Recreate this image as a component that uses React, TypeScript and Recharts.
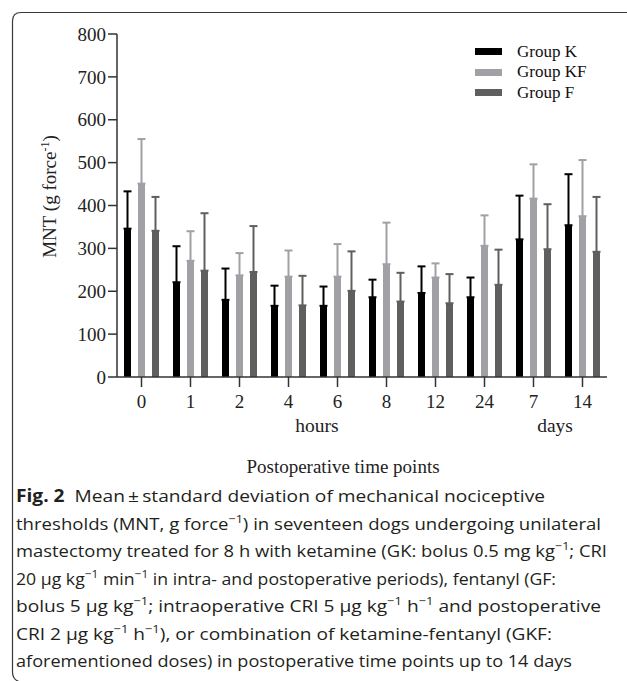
import React from 'react';
import { BarChart, Bar, XAxis, YAxis, ErrorBar, Legend } from 'recharts';

// ---- data ----
const categories = ['0', '1', '2', '4', '6', '8', '12', '24', '7', '14'];
const kMean = [346, 221, 180, 166, 166, 186, 196, 186, 321, 354];
const kSd = [87, 84, 73, 47, 45, 41, 62, 46, 102, 119];
const kfMean = [451, 271, 237, 234, 234, 263, 232, 306, 416, 375];
const kfSd = [104, 69, 52, 61, 76, 97, 33, 71, 80, 131];
const fMean = [341, 248, 245, 167, 201, 176, 172, 215, 298, 292];
const fSd = [79, 134, 107, 69, 92, 67, 68, 82, 105, 128];
const yTicks = [0, 100, 200, 300, 400, 500, 600, 700, 800];
const seriesNames = ['Group K', 'Group KF', 'Group F'];

const data = categories.map((c, i) => ({
  cat: c,
  k: kMean[i],
  kErr: [0, kSd[i]],
  kf: kfMean[i],
  kfErr: [0, kfSd[i]],
  f: fMean[i],
  fErr: [0, fSd[i]],
}));

const COLORS = ['#000000', '#a1a1a5', '#5f5f5f'];
const SERIF = '"Liberation Serif", "Times New Roman", serif';
const SANS = '"Open Sans", "Noto Sans", sans-serif';

type Seg = { t: string; b?: boolean; s?: boolean };
const CAPTION: Seg[][] = [
  [{ t: 'Fig. 2', b: true }, { t: '  Mean\u2009±\u2009standard deviation of mechanical nociceptive' }],
  [{ t: 'thresholds (MNT, g force' }, { t: '−1', s: true }, { t: ') in seventeen dogs undergoing unilateral' }],
  [{ t: 'mastectomy treated for 8 h with ketamine (GK: bolus 0.5 mg kg' }, { t: '−1', s: true }, { t: '; CRI' }],
  [{ t: '20 μg kg' }, { t: '−1', s: true }, { t: ' min' }, { t: '−1', s: true }, { t: ' in intra- and postoperative periods), fentanyl (GF:' }],
  [{ t: 'bolus 5 μg kg' }, { t: '−1', s: true }, { t: '; intraoperative CRI 5 μg kg' }, { t: '−1', s: true }, { t: ' h' }, { t: '−1', s: true }, { t: ' and postoperative' }],
  [{ t: 'CRI 2 μg kg' }, { t: '−1', s: true }, { t: ' h' }, { t: '−1', s: true }, { t: '), or combination of ketamine-fentanyl (GKF:' }],
  [{ t: 'aforementioned doses) in postoperative time points up to 14 days' }],
];
const CAPTION_WIDTHS = [529, 585, 591, 540, 585, 536, 556];

function renderCaptionLine(segs: Seg[]) {
  const out: React.ReactNode[] = [];
  let raised = false;
  segs.forEach((sg, i) => {
    if (sg.s) {
      out.push(
        <tspan key={i} dy={-7} fontSize={11.5}>
          {sg.t}
        </tspan>
      );
      raised = true;
    } else {
      out.push(
        <tspan key={i} dy={raised ? 7 : 0} fontSize={17} fontWeight={sg.b ? 700 : 400}>
          {sg.t}
        </tspan>
      );
      raised = false;
    }
  });
  return out;
}

const LegendContent = () => (
  <div style={{ fontFamily: SERIF, fontSize: 17, color: '#111' }}>
    {seriesNames.map((n, i) => (
      <div key={n} style={{ display: 'flex', alignItems: 'center', height: 20.5 }}>
        <div style={{ width: 27, height: 7, background: COLORS[i], marginRight: 15 }} />
        <span style={{ lineHeight: '20px', whiteSpace: 'nowrap' }}>{n}</span>
      </div>
    ))}
  </div>
);

export default function App() {
  const axisColor = '#333';
  return (
    <div style={{ position: 'absolute', left: 0, top: 0, width: 627, height: 681, background: '#fff' }}>
      <BarChart
        width={627}
        height={681}
        data={data}
        margin={{ top: 34, right: 20, bottom: 0, left: 0 }}
        barSize={7}
        barGap={7}
      >
        <XAxis
          dataKey="cat"
          height={304}
          tickSize={10}
          tickMargin={8}
          axisLine={{ stroke: axisColor, strokeWidth: 1.5 }}
          tickLine={{ stroke: axisColor, strokeWidth: 1.5 }}
          tick={{ fontFamily: SERIF, fontSize: 19, fill: '#222' }}
          interval={0}
        />
        <YAxis
          width={117}
          domain={[0, 800]}
          ticks={yTicks}
          tickSize={9}
          tickMargin={2}
          axisLine={{ stroke: axisColor, strokeWidth: 1.5 }}
          tickLine={{ stroke: axisColor, strokeWidth: 1.5 }}
          tick={{ fontFamily: SERIF, fontSize: 19, fill: '#222' }}
          interval={0}
        />
        <Legend
          layout="horizontal"
          verticalAlign="middle"
          align="center"
          content={<LegendContent />}
          wrapperStyle={{ left: 475, top: 41.5, width: 140, height: 62 }}
        />
        <Bar dataKey="k" name={seriesNames[0]} fill={COLORS[0]} isAnimationActive={false}>
          <ErrorBar dataKey="kErr" direction="y" width={4} strokeWidth={2} stroke={COLORS[0]} isAnimationActive={false} />
        </Bar>
        <Bar dataKey="kf" name={seriesNames[1]} fill={COLORS[1]} isAnimationActive={false}>
          <ErrorBar dataKey="kfErr" direction="y" width={4} strokeWidth={2} stroke={COLORS[1]} isAnimationActive={false} />
        </Bar>
        <Bar dataKey="f" name={seriesNames[2]} fill={COLORS[2]} isAnimationActive={false}>
          <ErrorBar dataKey="fErr" direction="y" width={4} strokeWidth={2} stroke={COLORS[2]} isAnimationActive={false} />
        </Bar>
      </BarChart>
      <svg
        width={627}
        height={681}
        style={{ position: 'absolute', left: 0, top: 0, pointerEvents: 'none' }}
      >
        <path
          d="M 627 12.5 L 21 12.5 Q 12.5 12.5 12.5 21 L 12.5 672 Q 12.5 679.5 19 681.5"
          fill="none"
          stroke="#3a3a3a"
          strokeWidth={1.2}
        />
        <text
          x={56}
          y={196.5}
          transform="rotate(-90 56 196.5)"
          textAnchor="middle"
          fontFamily={SERIF}
          fontSize={19}
          fill="#222"
        >
          MNT (g force
          <tspan dy={-7} fontSize={12}>-1</tspan>
          <tspan dy={7}>)</tspan>
        </text>
        <text x={317} y={432} textAnchor="middle" fontFamily={SERIF} fontSize={19.5} fill="#222">
          hours
        </text>
        <text x={555} y={432} textAnchor="middle" fontFamily={SERIF} fontSize={19.5} fill="#222">
          days
        </text>
        <text x={343} y={473} textAnchor="middle" fontFamily={SERIF} fontSize={19} fill="#222">
          Postoperative time points
        </text>
        {CAPTION.map((line, i) => (
          <text
            key={i}
            x={16}
            y={502 + i * 27.5}
            fontFamily={SANS}
            fill="#231f20"
            textLength={CAPTION_WIDTHS[i]}
            lengthAdjust="spacingAndGlyphs"
            style={{ whiteSpace: 'pre' }}
          >
            {renderCaptionLine(line)}
          </text>
        ))}
      </svg>
    </div>
  );
}
